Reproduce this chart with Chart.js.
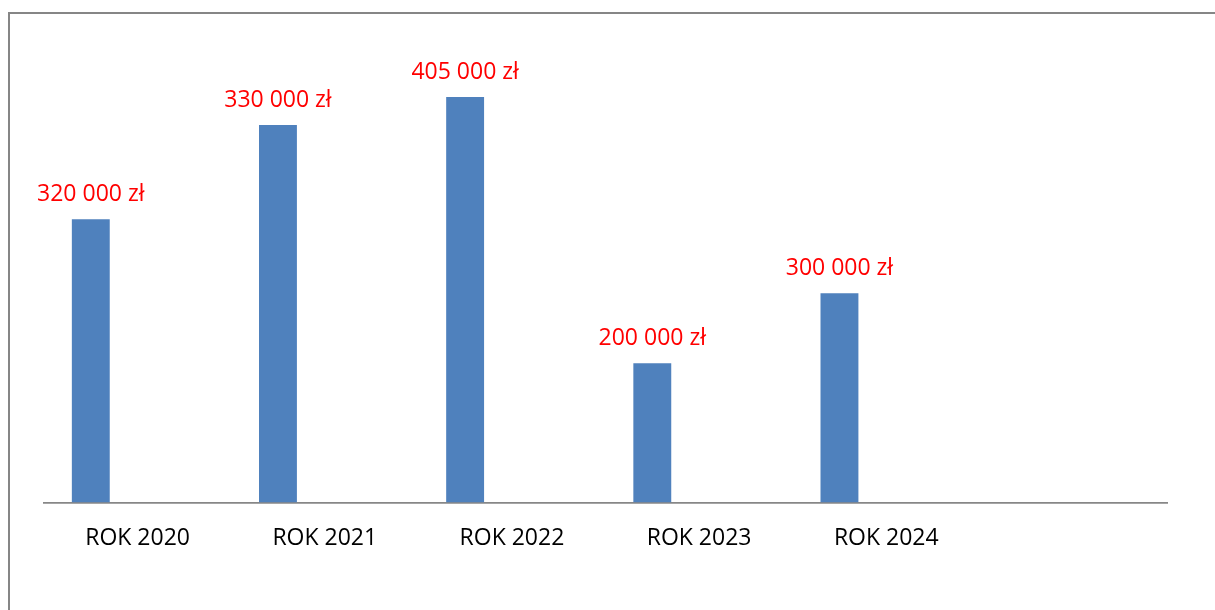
<!DOCTYPE html>
<html>
<head>
<meta charset="utf-8">
<script src="https://cdn.jsdelivr.net/npm/chart.js@4/dist/chart.umd.min.js"></script>
<style>
  html, body { margin: 0; padding: 0; background: #fff; overflow: hidden; }
  #frame {
    position: absolute; left: 8px; top: 12px; width: 1400px; height: 800px;
    border-left: 2px solid #868686; border-top: 2px solid #868686;
  }
  #wrap { position: absolute; left: 0; top: 0; width: 1215px; height: 610px; }
</style>
</head>
<body>
<div id="frame"></div>
<div id="wrap"><canvas id="chart"></canvas></div>
<script>
// categories (sixth slot is left empty, as in the original)
const categories = ['ROK 2020', 'ROK 2021', 'ROK 2022', 'ROK 2023', 'ROK 2024', ''];
// bar heights as drawn in the picture
const barValues = [283000, 377000, 405000, 139000, 209000, null];
// texts printed above the bars
const valueLabels = ['320 000 zł', '330 000 zł', '405 000 zł', '200 000 zł', '300 000 zł', ''];
// empty second series, it only takes up the right half of each category
const emptySeries = [null, null, null, null, null, null];

const font = '"Open Sans", "Liberation Sans", sans-serif';

const valueLabelPlugin = {
    id: 'valueLabels',
    afterDatasetsDraw(chart) {
        const ctx = chart.ctx;
        const meta = chart.getDatasetMeta(0);
        ctx.save();
        ctx.fillStyle = '#ff0000';
        ctx.font = '23px ' + font;
        ctx.textAlign = 'center';
        ctx.textBaseline = 'alphabetic';
        meta.data.forEach((bar, i) => {
            if (barValues[i] == null) return;
            ctx.fillText(valueLabels[i], bar.x, bar.y - 18);
        });
        ctx.restore();
    }
};

new Chart(document.getElementById('chart'), {
    type: 'bar',
    data: {
        labels: categories,
        datasets: [{
            data: barValues,
            backgroundColor: '#4f81bd',
            categoryPercentage: 1.0,
            barPercentage: 0.405
        }, {
            data: emptySeries,
            backgroundColor: '#c0504d',
            categoryPercentage: 1.0,
            barPercentage: 0.405
        }]
    },
    options: {
        responsive: true,
        maintainAspectRatio: false,
        animation: false,
        layout: {
            padding: { top: 12, left: 44, right: 48, bottom: 36 }
        },
        plugins: {
            legend: { display: false },
            tooltip: { enabled: false }
        },
        scales: {
            x: {
                grid: { display: false, drawTicks: false },
                border: { display: true, color: '#878787', width: 1.7 },
                ticks: {
                    color: '#000',
                    padding: 22,
                    maxRotation: 0,
                    font: { family: font, size: 23 }
                }
            },
            y: {
                display: false,
                min: 0,
                max: 490000
            }
        }
    },
    plugins: [valueLabelPlugin]
});
</script>
</body>
</html>
